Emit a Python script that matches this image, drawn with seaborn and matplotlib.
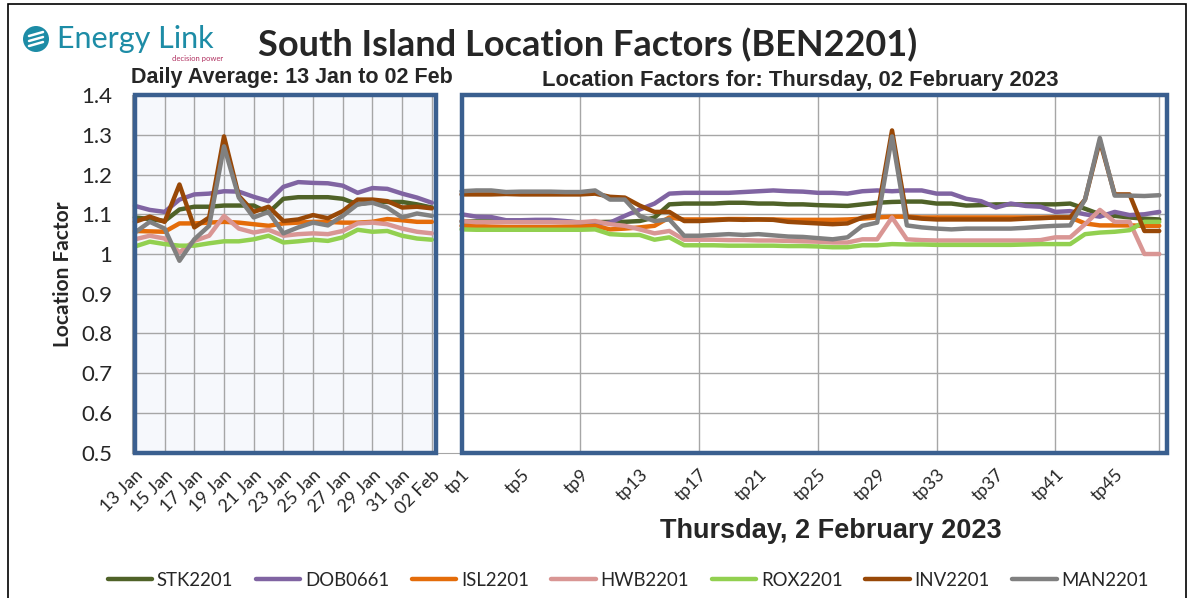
import pandas as pd
import matplotlib.pyplot as plt
import seaborn as sns
from matplotlib.patches import Rectangle, Ellipse
from matplotlib.lines import Line2D

# daily averages, 13 Jan to 02 Feb
days = ['13 Jan', '14 Jan', '15 Jan', '16 Jan', '17 Jan', '18 Jan', '19 Jan', '20 Jan',
        '21 Jan', '22 Jan', '23 Jan', '24 Jan', '25 Jan', '26 Jan', '27 Jan', '28 Jan',
        '29 Jan', '30 Jan', '31 Jan', '01 Feb', '02 Feb']
stk_day = [1.092, 1.088, 1.083, 1.112, 1.119, 1.119, 1.122, 1.122, 1.122, 1.104, 1.139,
           1.143, 1.143, 1.143, 1.139, 1.125, 1.131, 1.131, 1.131, 1.125, 1.117]
dob_day = [1.121, 1.111, 1.106, 1.137, 1.150, 1.152, 1.158, 1.157, 1.144, 1.133, 1.169,
           1.181, 1.179, 1.178, 1.172, 1.154, 1.166, 1.164, 1.152, 1.142, 1.129]
isl_day = [1.058, 1.057, 1.056, 1.077, 1.077, 1.079, 1.081, 1.079, 1.075, 1.071, 1.077,
           1.079, 1.081, 1.081, 1.079, 1.079, 1.081, 1.088, 1.085, 1.081, 1.081]
hwb_day = [1.037, 1.046, 1.039, 1.004, 1.033, 1.046, 1.096, 1.064, 1.054, 1.061, 1.046,
           1.050, 1.052, 1.050, 1.058, 1.077, 1.079, 1.075, 1.064, 1.056, 1.052]
rox_day = [1.019, 1.031, 1.025, 1.021, 1.021, 1.027, 1.032, 1.032, 1.037, 1.046, 1.029,
           1.032, 1.036, 1.033, 1.042, 1.061, 1.056, 1.058, 1.046, 1.039, 1.036]
inv_day = [1.081, 1.094, 1.081, 1.175, 1.067, 1.092, 1.296, 1.146, 1.106, 1.119, 1.083,
           1.087, 1.098, 1.090, 1.108, 1.137, 1.137, 1.133, 1.117, 1.119, 1.115]
man_day = [1.054, 1.081, 1.064, 0.983, 1.037, 1.071, 1.271, 1.142, 1.092, 1.106, 1.052,
           1.067, 1.079, 1.072, 1.096, 1.125, 1.129, 1.117, 1.092, 1.102, 1.096]

# trading periods for Thursday 02 Feb 2023
tps = ['tp%d' % i for i in range(1, 49)]
stk_tp = [1.082, 1.082, 1.082, 1.082, 1.081, 1.081, 1.081, 1.081, 1.080, 1.080,
          1.081, 1.081, 1.083, 1.092, 1.125, 1.127, 1.127, 1.127, 1.129, 1.129,
          1.127, 1.127, 1.125, 1.125, 1.123, 1.122, 1.121, 1.125, 1.129, 1.131,
          1.132, 1.132, 1.127, 1.127, 1.122, 1.123, 1.125, 1.125, 1.125, 1.125,
          1.125, 1.127, 1.114, 1.100, 1.096, 1.092, 1.089, 1.087]
dob_tp = [1.100, 1.094, 1.093, 1.085, 1.085, 1.086, 1.086, 1.083, 1.079, 1.075,
          1.079, 1.096, 1.112, 1.127, 1.152, 1.154, 1.154, 1.154, 1.154, 1.156,
          1.158, 1.160, 1.158, 1.157, 1.154, 1.154, 1.152, 1.158, 1.160, 1.158,
          1.160, 1.160, 1.152, 1.152, 1.139, 1.133, 1.117, 1.127, 1.121, 1.119,
          1.106, 1.108, 1.100, 1.094, 1.106, 1.098, 1.100, 1.106]
isl_tp = [1.071, 1.071, 1.069, 1.068, 1.068, 1.068, 1.068, 1.069, 1.069, 1.071,
          1.062, 1.064, 1.067, 1.071, 1.092, 1.087, 1.087, 1.087, 1.088, 1.088,
          1.087, 1.087, 1.086, 1.086, 1.086, 1.086, 1.087, 1.089, 1.092, 1.094,
          1.094, 1.092, 1.092, 1.092, 1.092, 1.092, 1.092, 1.092, 1.092, 1.092,
          1.092, 1.092, 1.077, 1.072, 1.072, 1.072, 1.071, 1.071]
hwb_tp = [1.083, 1.080, 1.080, 1.080, 1.080, 1.080, 1.080, 1.080, 1.080, 1.083,
          1.075, 1.071, 1.062, 1.052, 1.058, 1.036, 1.036, 1.036, 1.035, 1.035,
          1.034, 1.034, 1.033, 1.032, 1.031, 1.029, 1.029, 1.037, 1.037, 1.092,
          1.037, 1.035, 1.034, 1.034, 1.034, 1.034, 1.034, 1.034, 1.034, 1.035,
          1.042, 1.042, 1.075, 1.111, 1.081, 1.081, 1.000, 1.000]
rox_tp = [1.062, 1.061, 1.061, 1.061, 1.061, 1.061, 1.061, 1.061, 1.061, 1.062,
          1.050, 1.048, 1.048, 1.036, 1.042, 1.022, 1.022, 1.022, 1.021, 1.021,
          1.021, 1.021, 1.020, 1.020, 1.019, 1.017, 1.017, 1.022, 1.022, 1.025,
          1.024, 1.024, 1.023, 1.023, 1.023, 1.023, 1.023, 1.023, 1.024, 1.025,
          1.025, 1.025, 1.050, 1.054, 1.056, 1.060, 1.081, 1.081]
inv_tp = [1.150, 1.150, 1.150, 1.151, 1.150, 1.150, 1.150, 1.150, 1.150, 1.152,
          1.144, 1.142, 1.122, 1.106, 1.106, 1.083, 1.083, 1.085, 1.087, 1.086,
          1.087, 1.086, 1.081, 1.079, 1.077, 1.075, 1.077, 1.092, 1.098, 1.311,
          1.093, 1.089, 1.087, 1.087, 1.087, 1.087, 1.087, 1.087, 1.089, 1.090,
          1.092, 1.092, 1.137, 1.285, 1.150, 1.150, 1.058, 1.058]
man_tp = [1.158, 1.160, 1.160, 1.156, 1.157, 1.157, 1.157, 1.156, 1.156, 1.160,
          1.137, 1.137, 1.096, 1.083, 1.087, 1.046, 1.046, 1.048, 1.050, 1.048,
          1.050, 1.047, 1.044, 1.043, 1.040, 1.037, 1.042, 1.071, 1.079, 1.296,
          1.072, 1.067, 1.064, 1.062, 1.064, 1.064, 1.064, 1.064, 1.066, 1.069,
          1.071, 1.072, 1.137, 1.292, 1.147, 1.147, 1.146, 1.148]

names = ['STK2201', 'DOB0661', 'ISL2201', 'HWB2201', 'ROX2201', 'INV2201', 'MAN2201']
colors = ['#4f6228', '#8064a2', '#e46c0a', '#d99694', '#92d050', '#984807', '#808080']
day_vals = [stk_day, dob_day, isl_day, hwb_day, rox_day, inv_day, man_day]
tp_vals = [stk_tp, dob_tp, isl_tp, hwb_tp, rox_tp, inv_tp, man_tp]

# one category axis: days, a blank slot, then trading periods
cats = days + [''] + tps
rows = []
for name, dv, tv in zip(names, day_vals, tp_vals):
    for i, v in enumerate(dv):
        rows.append((name, 'day', i, v))
    for i, v in enumerate(tv):
        rows.append((name, 'tp', len(days) + 1 + i, v))
df = pd.DataFrame(rows, columns=['series', 'segment', 'x', 'value'])

sns.set_style('white')
plt.rcParams['font.family'] = ['Lato', 'DejaVu Sans']

fig = plt.figure(figsize=(11.92, 5.98), dpi=100)
ax = fig.add_axes([0.1107, 0.243, 0.8693, 0.598])

sns.lineplot(data=df, x='x', y='value', hue='series', units='segment', estimator=None,
             palette=dict(zip(names, colors)), hue_order=names, lw=3.2, ax=ax,
             legend=False, zorder=3)

x0 = len(days) + 1
ax.set_xlim(-0.2, len(cats) - 0.4)
ax.set_ylim(0.5, 1.4)

# panels
ax.add_patch(Rectangle((-0.02, 0.5), len(days) - 0.7, 0.9, facecolor='#f6f8fc',
                       edgecolor='none', zorder=0))
for xs, w in [(-0.02, len(days) - 0.7), (x0, len(tps) - 0.45)]:
    ax.add_patch(Rectangle((xs, 0.5), w, 0.9, fill=False, edgecolor='#3a5f8f',
                           lw=3.2, zorder=5, clip_on=False))

# gridlines
gc = '#a6a6a6'
for y in [0.6, 0.7, 0.8, 0.9, 1.0, 1.1, 1.2, 1.3]:
    ax.axhline(y, color=gc, lw=1, zorder=1)
for x in list(range(2, len(days), 2)) + [x0 + 8, x0 + 16, x0 + 24, x0 + 32, x0 + 40, x0 + 47]:
    ax.axvline(x, color=gc, lw=1, zorder=1)

ax.set_yticks([0.5, 0.6, 0.7, 0.8, 0.9, 1.0, 1.1, 1.2, 1.3, 1.4])
ax.set_yticklabels(['0.5', '0.6', '0.7', '0.8', '0.9', '1', '1.1', '1.2', '1.3', '1.4'],
                   fontsize=16)
labels = []
for i, c in enumerate(cats):
    if i < len(days):
        labels.append(c if i % 2 == 0 else '')
    elif i >= x0 and (i - x0) % 4 == 0:
        labels.append(c)
    else:
        labels.append('')
ax.set_xticks(range(len(cats)))
ax.set_xticklabels(labels, rotation=45, ha='right', rotation_mode='anchor', fontsize=13)
ax.tick_params(axis='both', direction='out', length=5, color='#a6a6a6', width=1)
ax.tick_params(axis='x', pad=5)
ax.tick_params(axis='y', pad=9)
for s in ['top', 'right']:
    ax.spines[s].set_visible(False)
for s in ['left', 'bottom']:
    ax.spines[s].set_color('#a6a6a6')

ax.set_ylabel('Location Factor', fontsize=15, fontweight='bold', labelpad=6)
ax.set_xlabel('')

# titles
fig.text(0.493, 0.925, 'South Island Location Factors (BEN2201)', ha='center', va='center',
         fontsize=26, fontweight='bold')
fig.text(0.245, 0.871, 'Daily Average: 13 Jan to 02 Feb', ha='center', va='center',
         fontsize=15.5, fontweight='bold', family='Liberation Sans')
fig.text(0.671, 0.866, 'Location Factors for: Thursday, 02 February 2023', ha='center',
         va='center', fontsize=15.8, fontweight='bold', family='Liberation Sans')
fig.text(0.697, 0.112, 'Thursday, 2 February 2023', ha='center', va='center',
         fontsize=19.5, fontweight='bold', family='Liberation Sans')

# logo
fig.patches.append(Ellipse((36 / 1192, 1 - 39 / 598), 26 / 1192, 26 / 598,
                           transform=fig.transFigure, facecolor='#1d8ca6', edgecolor='none'))
for dy in [-5, 0, 5]:
    fig.add_artist(Line2D([29 / 1192, 43 / 1192], [1 - (41 + dy) / 598, 1 - (37 + dy) / 598],
                          color='white', lw=1.8, transform=fig.transFigure))
fig.text(57 / 1192, 1 - 39 / 598, 'Energy Link', ha='left', va='center', fontsize=22,
         color='#1d8ca6')
fig.text(172 / 1192, 1 - 58 / 598, 'decision power', ha='left', va='center', fontsize=5.5,
         color='#b03060')

# outer frame
fig.add_artist(Rectangle((8 / 1192, -0.05), 1178 / 1192, 1.05 - 4 / 598, fill=False,
                         edgecolor='black', lw=1.2, transform=fig.transFigure))

handles = [Line2D([], [], color=c, lw=3.2) for c in colors]
fig.legend(handles, names, loc='center', bbox_to_anchor=(0.527, 0.03), ncol=7,
           frameon=False, fontsize=13.4, handlelength=2.4, handletextpad=0.25,
           columnspacing=1.2)

fig.savefig('out.png', dpi=100)
